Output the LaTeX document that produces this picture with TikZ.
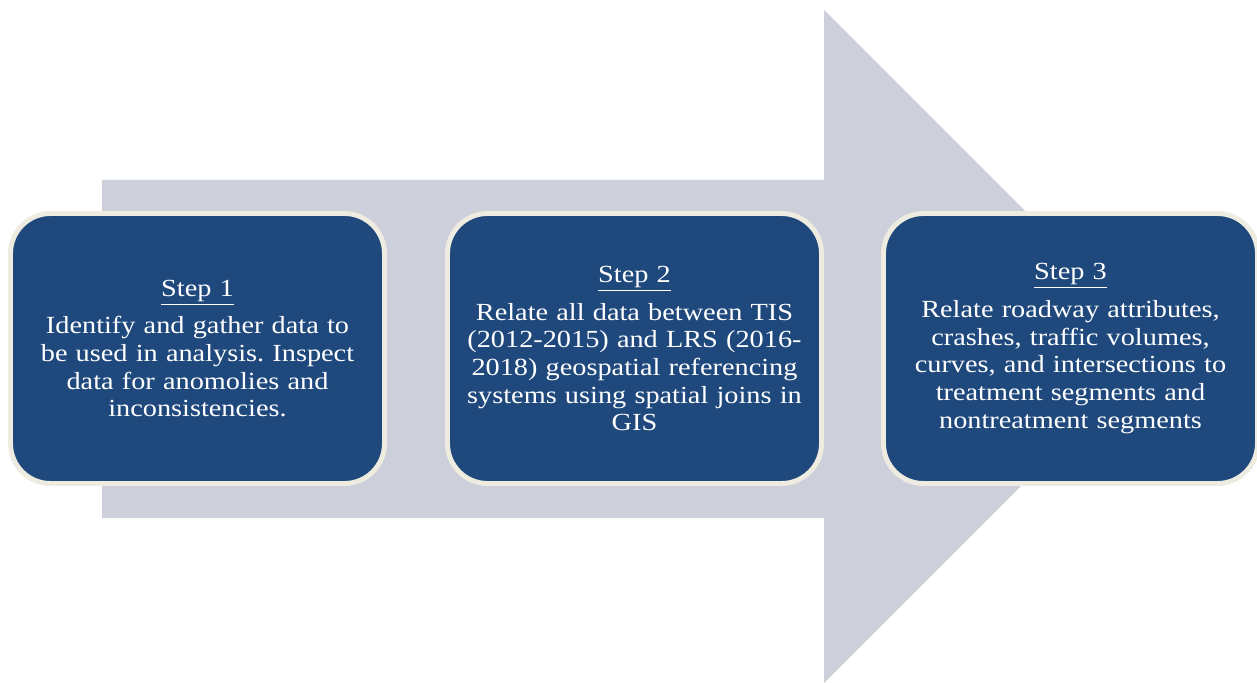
\documentclass[tikz,border=0pt]{standalone}
\usepackage{fontspec}
\setmainfont{Liberation Serif}[FakeStretch=1.15]
\frenchspacing
\definecolor{arrowgray}{HTML}{CDD0DA}
\definecolor{boxblue}{HTML}{1F497D}
\definecolor{boxrim}{HTML}{EEECE1}

\begin{document}
\begin{tikzpicture}[
    stepbox/.style={draw=boxrim, fill=boxblue, line width=2.8pt,
        rounded corners=0.8cm, minimum width=7.48cm, minimum height=5.4cm,
        text=white, align=center, text width=7cm,
        font=\fontsize{14}{15.7}\selectfont}]
    \useasboundingbox (0,0) rectangle (25.14,-13.66);

    % big arrow
    \fill[arrowgray] (2.04,-3.6) -- (16.48,-3.6) -- (16.48,-0.2) -- (23.21,-6.93)
        -- (16.48,-13.66) -- (16.48,-10.36) -- (2.04,-10.36) -- cycle;

    % steps
    \node[stepbox] (step1) at (3.95,-6.97)
        {\underline{Step 1}\\[5.8pt]
         Identify and gather data to\\
         be used in analysis. Inspect\\
         data for anomolies and\\
         inconsistencies.};
    \node[stepbox] (step2) at (12.69,-6.97)
        {\underline{Step 2}\\[5.8pt]
         Relate all data between TIS\\
         (2012-2015) and LRS (2016-\\
         2018) geospatial referencing\\
         systems using spatial joins in\\
         GIS};
    \node[stepbox] (step3) at (21.41,-6.97)
        {\underline{Step 3}\\[5.8pt]
         Relate roadway attributes,\\
         crashes, traffic volumes,\\
         curves, and intersections to\\
         treatment segments and\\
         nontreatment segments};
\end{tikzpicture}
\end{document}
